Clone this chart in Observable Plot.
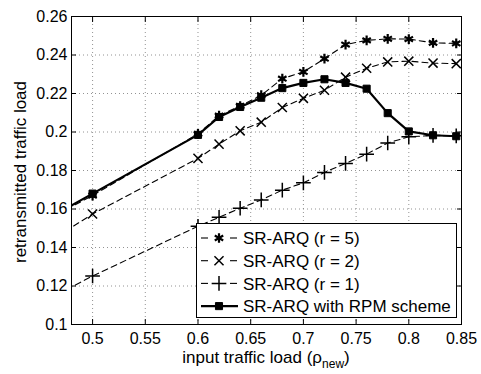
<!DOCTYPE html>
<html><head><meta charset="utf-8">
<script src="https://cdn.jsdelivr.net/npm/d3@7"></script>
<script src="https://cdn.jsdelivr.net/npm/@observablehq/plot@0.6"></script>
<style>body{margin:0;background:#fff} svg{font-family:"Liberation Sans",Arial,sans-serif}</style>
</head><body><div id="chart"></div>
<script>
const xLoad = [0.45, 0.5, 0.6, 0.62, 0.64, 0.66, 0.68, 0.70, 0.72, 0.74, 0.76, 0.78, 0.80, 0.823, 0.845];
const r5  = [0.1525, 0.167, 0.199, 0.2085, 0.2135, 0.2191, 0.2277, 0.2312, 0.2381, 0.2454, 0.2476, 0.2484, 0.2483, 0.2463, 0.2460];
const r2  = [0.140, 0.1574, 0.1863, 0.1937, 0.2006, 0.2051, 0.2127, 0.2175, 0.2217, 0.2285, 0.2331, 0.2364, 0.2368, 0.2358, 0.2355];
const r1  = [0.111, 0.1252, 0.151, 0.1557, 0.1604, 0.1647, 0.1698, 0.1736, 0.1790, 0.1837, 0.1885, 0.1943, 0.1975, 0.1982, 0.1980];
const rpm = [0.1525, 0.168, 0.1985, 0.2078, 0.2130, 0.2178, 0.2228, 0.2255, 0.2274, 0.2255, 0.2225, 0.2098, 0.2003, 0.1983, 0.1978];
const seriesNames = ["SR-ARQ (r = 5)", "SR-ARQ (r = 2)", "SR-ARQ (r = 1)", "SR-ARQ with RPM scheme"];
const xTicks = [0.5, 0.55, 0.6, 0.65, 0.7, 0.75, 0.8, 0.85];
const yTicks = [0.1, 0.12, 0.14, 0.16, 0.18, 0.2, 0.22, 0.24, 0.26];
const xTitle = "input traffic load (ρ";
const xTitleSub = "new";
const yTitle = "retransmitted traffic load";

const seriesValues = [r5, r2, r1, rpm];
const styles = [
  {symbol: "asterisk", dash: "6,4", width: 1.1, r: 4.6, sw: 2.2, fill: "none"},
  {symbol: "times", dash: "6,4", width: 1.1, r: 4.2, sw: 1.5, fill: "none"},
  {symbol: "plus", dash: "6,4", width: 1.1, r: 4.8, sw: 1.5, fill: "none"},
  {symbol: "square", dash: null, width: 2.2, r: 4, sw: 1, fill: "black"}
];
const tables = seriesValues.map((vals, i) => vals.map((v, j) => ({x: xLoad[j], y: v, series: seriesNames[i]})));
const fmt = d => String(+d.toFixed(2));

const marks = [
  Plot.gridX(xTicks, {stroke: "#777", strokeOpacity: 1, strokeWidth: 0.8, strokeDasharray: "1,3"}),
  Plot.gridY(yTicks, {stroke: "#777", strokeOpacity: 1, strokeWidth: 0.8, strokeDasharray: "1,3"})
];
tables.forEach((t, i) => {
  const s = styles[i];
  marks.push(Plot.line(t, {x: "x", y: "y", stroke: "black", strokeWidth: s.width, strokeDasharray: s.dash, clip: true}));
  marks.push(Plot.dot(t, {x: "x", y: "y", symbol: () => s.symbol, r: s.r, stroke: "black", strokeWidth: s.sw, fill: s.fill, clip: true}));
});
marks.push(
  Plot.frame({stroke: "black", strokeWidth: 1}),
  Plot.axisX(xTicks, {anchor: "bottom", tickSize: -5, tickPadding: 13, tickFormat: fmt, fontSize: 16, label: null}),
  Plot.axisX(xTicks, {anchor: "top", tickSize: -5, tickFormat: () => "", label: null}),
  Plot.axisY(yTicks, {anchor: "left", tickSize: -5, tickPadding: 9, tickFormat: fmt, fontSize: 16, label: null}),
  Plot.axisY(yTicks, {anchor: "right", tickSize: -5, tickFormat: () => "", label: null})
);

const chart = Plot.plot({
  width: 481, height: 374,
  marginLeft: 71, marginRight: 20, marginTop: 16, marginBottom: 50,
  x: {domain: [0.48, 0.85]},
  y: {domain: [0.1, 0.26]},
  style: {fontFamily: "'Liberation Sans', Arial, sans-serif", color: "black", background: "white"},
  marks
});
document.getElementById("chart").appendChild(chart);

const svg = d3.select(chart);
// axis titles
const xt = svg.append("text").attr("x", 266).attr("y", 363).attr("text-anchor", "middle")
  .attr("font-size", 17).attr("fill", "black");
xt.append("tspan").text(xTitle);
xt.append("tspan").attr("font-size", 12).attr("dy", 5).text(xTitleSub);
xt.append("tspan").attr("dy", -5).text(")");
svg.append("text").attr("transform", "translate(26,172) rotate(-90)").attr("text-anchor", "middle")
  .attr("font-size", 17).attr("fill", "black").text(yTitle);

// legend
const lg = svg.append("g").attr("text-anchor", "start");
lg.append("rect").attr("x", 196.5).attr("y", 223.5).attr("width", 260).attr("height", 94)
  .attr("fill", "white").attr("stroke", "black").attr("stroke-width", 1);
const symMap = {asterisk: d3.symbolAsterisk, times: d3.symbolTimes, plus: d3.symbolPlus, square: d3.symbolSquare};
seriesNames.forEach((name, i) => {
  const s = styles[i];
  const cy = 238 + i * 22.7;
  if (s.dash) {
    lg.append("line").attr("x1", 201).attr("x2", 208).attr("y1", cy).attr("y2", cy).attr("stroke", "black").attr("stroke-width", s.width);
    lg.append("line").attr("x1", 230).attr("x2", 237).attr("y1", cy).attr("y2", cy).attr("stroke", "black").attr("stroke-width", s.width);
  } else {
    lg.append("line").attr("x1", 201).attr("x2", 238).attr("y1", cy).attr("y2", cy).attr("stroke", "black").attr("stroke-width", s.width);
  }
  lg.append("path").attr("transform", `translate(219,${cy})`)
    .attr("d", d3.symbol(symMap[s.symbol], s.r * s.r * Math.PI)())
    .attr("stroke", "black").attr("stroke-width", s.sw).attr("fill", s.fill);
  lg.append("text").attr("x", 243).attr("y", cy).attr("dy", "0.36em").attr("text-anchor", "start")
    .attr("font-size", 17).attr("fill", "black").text(name);
});
</script></body></html>
